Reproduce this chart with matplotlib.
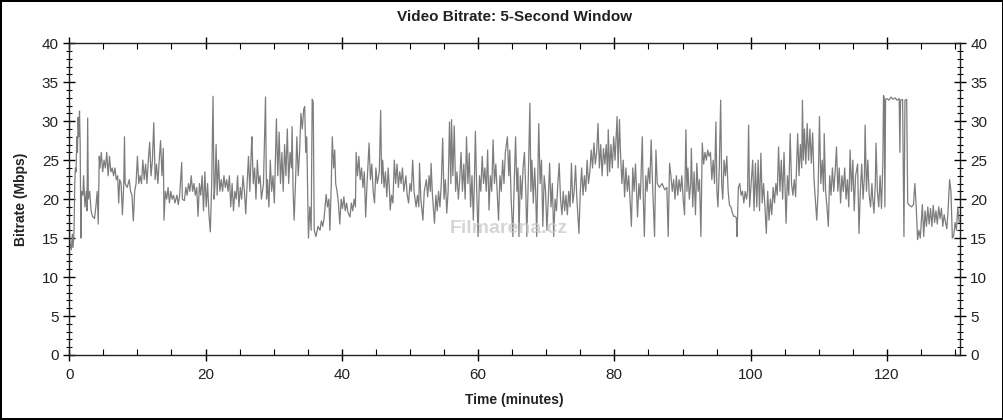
import matplotlib
matplotlib.use("Agg")
import matplotlib.pyplot as plt
from matplotlib.ticker import MultipleLocator

plt.rcParams['font.family'] = ['Liberation Sans', 'DejaVu Sans']

title = "Video Bitrate: 5-Second Window"
x_label = "Time (minutes)"
y_label = "Bitrate (Mbps)"
watermark = "Filmarena.cz"

minutes = [
    0.0, 0.05, 0.15, 0.3, 0.45, 0.55, 0.7, 0.8, 0.9, 1.0, 1.1, 1.2, 1.3, 1.4, 1.5, 1.6, 1.7, 1.8, 2.0, 2.1,
    2.3, 2.5, 2.6, 2.7, 2.8, 3.0, 3.2, 3.4, 3.7, 3.9, 4.1, 4.25, 4.4, 4.5, 4.7, 4.9, 5.1, 5.3, 5.5, 5.7,
    5.9, 6.1, 6.3, 6.5, 6.7, 6.9, 7.1, 7.25, 7.4, 7.6, 7.8, 8.0, 8.1, 8.2, 8.5, 8.8, 9.0, 9.2, 9.4, 9.6,
    9.8, 10.0, 10.2, 10.4, 10.6, 10.8, 11.0, 11.2, 11.4, 11.6, 11.8, 12.0, 12.2, 12.4, 12.6, 12.8, 13.0, 13.2, 13.4, 13.6,
    13.8, 13.9, 14.1, 14.3, 14.5, 14.7, 14.9, 15.1, 15.3, 15.5, 15.8, 16.0, 16.2, 16.5, 16.6, 16.9, 17.1, 17.3, 17.5, 17.7,
    17.9, 18.1, 18.3, 18.5, 18.7, 18.9, 19.1, 19.3, 19.5, 19.7, 19.9, 20.1, 20.3, 20.5, 20.7, 20.9, 21.1, 21.25, 21.4, 21.55,
    21.7, 21.9, 22.1, 22.3, 22.5, 22.7, 22.9, 23.1, 23.3, 23.5, 23.7, 23.9, 24.1, 24.3, 24.5, 24.7, 24.9, 25.1, 25.3, 25.5,
    25.7, 25.9, 26.1, 26.3, 26.5, 26.7, 26.8, 27.0, 27.2, 27.4, 27.6, 27.8, 28.0, 28.2, 28.5, 28.8, 28.95, 29.1, 29.3, 29.5,
    29.7, 29.9, 30.1, 30.4, 30.6, 30.8, 31.0, 31.2, 31.4, 31.6, 31.8, 32.0, 32.2, 32.4, 32.6, 32.7, 32.85, 33.0, 33.2, 33.4,
    33.6, 33.8, 34.0, 34.2, 34.4, 34.55, 34.7, 34.85, 35.0, 35.1, 35.3, 35.5, 35.65, 35.8, 35.95, 36.2, 36.5, 36.8, 37.0, 37.2,
    37.4, 37.7, 37.9, 38.1, 38.25, 38.45, 38.6, 38.8, 38.96, 39.1, 39.3, 39.5, 39.7, 39.9, 40.1, 40.3, 40.5, 40.7, 40.9, 41.2,
    41.4, 41.6, 41.8, 42.0, 42.1, 42.3, 42.5, 42.7, 42.9, 43.1, 43.3, 43.5, 43.7, 44.0, 44.2, 44.4, 44.6, 44.8, 45.0, 45.2,
    45.5, 45.7, 45.85, 46.0, 46.2, 46.4, 46.6, 46.8, 47.0, 47.1, 47.3, 47.5, 47.7, 47.9, 48.1, 48.3, 48.5, 48.7, 48.9, 49.1,
    49.4, 49.6, 49.8, 50.0, 50.2, 50.4, 50.6, 50.9, 51.1, 51.3, 51.4, 51.6, 51.9, 52.1, 52.4, 52.6, 52.8, 53.0, 53.1, 53.3,
    53.6, 53.8, 54.0, 54.2, 54.4, 54.6, 54.8, 55.0, 55.2, 55.4, 55.6, 55.8, 56.0, 56.1, 56.3, 56.5, 56.7, 56.9, 57.1, 57.3,
    57.5, 57.7, 57.9, 58.1, 58.3, 58.5, 58.7, 58.9, 59.1, 59.3, 59.45, 59.6, 59.8, 60.0, 60.2, 60.4, 60.6, 60.8, 61.0, 61.2,
    61.4, 61.6, 61.8, 62.0, 62.2, 62.4, 62.6, 62.8, 63.0, 63.2, 63.4, 63.6, 63.8, 64.0, 64.3, 64.5, 64.65, 64.85, 65.1, 65.3,
    65.5, 65.7, 65.85, 66.0, 66.2, 66.4, 66.6, 66.8, 67.0, 67.15, 67.35, 67.6, 67.75, 67.9, 68.1, 68.3, 68.45, 68.6, 68.75, 68.9,
    69.1, 69.3, 69.5, 69.7, 69.9, 70.1, 70.3, 70.5, 70.7, 70.9, 71.1, 71.3, 71.5, 71.7, 71.9, 72.1, 72.3, 72.5, 72.7, 72.9,
    73.1, 73.3, 73.5, 73.7, 73.9, 74.1, 74.3, 74.5, 74.8, 75.0, 75.2, 75.4, 75.6, 75.8, 76.0, 76.2, 76.4, 76.6, 76.8, 77.0,
    77.2, 77.4, 77.6, 77.8, 78.0, 78.2, 78.4, 78.6, 78.8, 79.0, 79.1, 79.3, 79.5, 79.7, 79.9, 80.1, 80.4, 80.55, 80.75, 80.9,
    81.1, 81.3, 81.5, 81.7, 81.9, 82.1, 82.3, 82.5, 82.7, 82.9, 83.1, 83.4, 83.6, 83.8, 84.1, 84.25, 84.4, 84.6, 84.8, 85.0,
    85.2, 85.4, 85.6, 85.9, 86.1, 86.3, 86.6, 87.0, 87.4, 87.7, 87.9, 88.1, 88.3, 88.5, 88.7, 88.9, 89.1, 89.3, 89.5, 89.7,
    89.9, 90.1, 90.3, 90.5, 90.65, 90.8, 91.0, 91.2, 91.3, 91.5, 91.7, 91.9, 92.1, 92.3, 92.5, 92.7, 92.9, 93.1, 93.3, 93.5,
    93.7, 93.9, 94.1, 94.3, 94.5, 94.7, 94.9, 95.05, 95.2, 95.4, 95.6, 95.75, 95.9, 96.1, 96.3, 96.5, 96.7, 96.9, 97.1, 97.3,
    97.5, 97.7, 97.9, 98.0, 98.2, 98.4, 98.6, 98.8, 99.0, 99.2, 99.4, 99.55, 99.7, 99.85, 100.0, 100.3, 100.5, 100.7, 100.9, 101.1,
    101.3, 101.5, 101.7, 101.9, 102.1, 102.3, 102.5, 102.7, 102.9, 103.1, 103.3, 103.5, 103.7, 103.9, 104.1, 104.3, 104.5, 104.7, 104.9, 105.2,
    105.4, 105.6, 105.8, 106.0, 106.2, 106.4, 106.6, 106.9, 107.1, 107.3, 107.5, 107.6, 107.75, 107.9, 108.1, 108.3, 108.5, 108.7, 108.9, 109.1,
    109.3, 109.5, 109.7, 109.9, 110.1, 110.3, 110.5, 110.7, 110.8, 111.0, 111.2, 111.4, 111.6, 111.8, 112.0, 112.2, 112.4, 112.6, 112.8, 113.0,
    113.2, 113.4, 113.6, 113.8, 114.0, 114.2, 114.4, 114.6, 114.8, 115.0, 115.2, 115.4, 115.7, 115.9, 116.1, 116.3, 116.5, 116.7, 116.8, 117.0,
    117.2, 117.4, 117.6, 117.8, 117.9, 118.1, 118.3, 118.4, 118.6, 118.8, 119.0, 119.2, 119.4, 119.5, 119.6, 119.7, 119.8, 120.0, 120.3, 120.6,
    120.9, 121.2, 121.5, 121.8, 121.9, 122.0, 122.3, 122.5, 122.65, 122.9, 123.05, 123.3, 123.6, 123.9, 124.1, 124.3, 124.5, 124.7, 124.9, 125.2,
    125.4, 125.6, 125.8, 126.0, 126.2, 126.4, 126.6, 126.8, 127.0, 127.2, 127.4, 127.6, 127.8, 128.0, 128.2, 128.4, 128.6, 128.8, 129.0, 129.2,
    129.4, 129.6, 129.8, 130.0, 130.2, 130.4, 130.6,
]

bitrate = [
    21, 15, 14, 13.5, 15.5, 13.8, 16, 22, 24, 23.5, 28, 26, 30.5, 28, 31.3, 27, 15, 21, 20.5, 23,
    19, 21, 18.5, 30.4, 20, 21, 18.5, 17.8, 17.5, 19, 21, 16.8, 25.5, 24, 26, 23.5, 25, 24, 26, 23,
    25.5, 23.5, 24, 23, 24, 22.5, 23, 19.5, 22.5, 22, 18, 22, 28, 22, 21.5, 22.5, 21, 20.5, 17.2, 21,
    22, 25.5, 22, 23, 22, 25, 22.5, 24.5, 22, 25, 27.3, 23, 25, 29.8, 22.5, 24.5, 22, 25, 27.5, 23,
    26.5, 17.3, 21, 20, 21.5, 19.5, 21, 20, 20.5, 19.5, 20.5, 19.3, 20.5, 24.7, 20, 19.8, 21.5, 20.5, 22, 21,
    23, 21, 22, 20.5, 21.5, 17.8, 22, 20.5, 23, 18.5, 23.5, 19, 22, 18, 15.8, 22, 33.2, 20, 22, 27,
    20.5, 25, 21, 22.5, 21, 23, 21.5, 22.5, 21, 23, 19, 22, 18.5, 21, 20, 23, 19, 21.5, 20, 23,
    21, 18.1, 22, 25.5, 21, 26, 28, 22, 24, 20, 25, 22, 23, 20, 22, 33.1, 20, 22.5, 19, 25,
    21, 23, 19.5, 30.3, 23, 28.6, 22, 26, 21, 27, 23, 29, 22, 26, 24, 29.3, 21, 17.3, 22, 28,
    23, 26, 31, 29, 31.5, 31.9, 26, 28, 20, 15, 19, 16, 32.8, 32.5, 16, 15.2, 16.5, 16, 17.2, 16.5,
    17.6, 20.6, 19, 20, 16, 22, 28, 24, 26.3, 22, 21, 19.5, 16.8, 20, 18.8, 20.3, 18.5, 19.5, 18.3, 17.7,
    19.5, 18.5, 20, 19, 26, 23, 25.5, 22.5, 24, 21.5, 23.5, 17.7, 22, 27.2, 22.5, 24.5, 21, 19.5, 24, 22,
    23.5, 31.4, 22, 25, 21.5, 23.5, 20.3, 24, 21, 18.6, 20.5, 19.5, 25, 22, 24.5, 21.5, 23.5, 22, 24, 21,
    23, 20.5, 19.5, 22, 21, 25, 21, 19, 20.5, 19, 24.6, 20, 17.3, 21, 22.5, 20.3, 23, 21, 24.6, 20.5,
    16.9, 20.5, 18.5, 21, 19, 22, 27.8, 20, 22.5, 18.2, 21, 29.9, 22, 30.2, 23, 29.4, 21, 23.5, 20, 22.5,
    26, 21, 24.5, 20, 28, 22, 25.9, 19, 23, 17.3, 22, 28.7, 21, 15.2, 23, 21, 25.5, 22, 24, 21,
    26.3, 18.6, 23, 21, 27.6, 22, 24.5, 21, 17.3, 23, 21, 25, 22, 26, 28, 23, 26.3, 20, 15.2, 22,
    28, 21, 24, 15.2, 23, 20, 24, 26, 21, 15.2, 22, 32.3, 21, 25, 19.5, 24, 21, 15.2, 22, 29.7,
    22, 25, 16.5, 23, 21, 16, 20, 24.6, 19, 22, 15.2, 20, 18.5, 22, 24.6, 20, 18, 21, 18.5, 20.5,
    18, 21, 19, 24.6, 19.5, 21, 24.3, 20, 15.6, 21, 24, 20.5, 23, 21, 25, 22, 23.5, 26.3, 24, 27.2,
    24.5, 26, 29.7, 24, 27, 23, 26.5, 24.5, 27, 23, 28.9, 23.5, 27, 24, 28, 25, 30.6, 24, 30.2, 26,
    22, 25, 20.3, 24, 21, 23, 20, 16.5, 24, 21, 24.5, 17.7, 22, 20, 28, 20, 15.2, 23, 21, 24,
    22, 27.6, 22, 15.2, 26.3, 22, 21.5, 22, 21.2, 21.5, 15.2, 24.6, 23, 21, 22.5, 20, 23, 20.5, 22.5, 21,
    23, 20, 18, 28.9, 21, 24, 20, 22, 26.5, 19, 23.5, 18, 24.6, 21, 22.5, 15.2, 27.2, 24.5, 26, 25,
    26.3, 25.5, 26, 22.5, 25, 22, 29.9, 21, 19, 24, 32.7, 22, 20, 25, 23, 25.5, 21, 19.2, 19, 18.3,
    17.8, 17.8, 17.6, 15.2, 21.5, 22, 20.5, 21, 19.5, 21, 20, 21, 29.5, 19, 21, 25, 18.5, 24.6, 19, 25,
    18.5, 25.9, 19.5, 22, 19, 15.6, 21, 17.3, 20, 18, 21.5, 19.5, 22, 20.5, 26.7, 21, 25, 20, 26, 16.9,
    23, 20.5, 28.4, 22, 20.5, 22.5, 20.3, 28.4, 23, 27, 24, 32.7, 25, 29, 24.5, 29.7, 25, 29, 24.6, 28.5,
    22.5, 20, 17.3, 21, 30.6, 22, 25, 21, 28.4, 21, 19, 16.5, 23, 20.5, 24, 21, 23.5, 26.7, 21, 24,
    19.5, 23, 21, 24, 20, 22.5, 19, 26.3, 21, 25, 18.5, 23, 24.5, 15.6, 21, 24.5, 20, 23, 29.5, 21,
    25, 20.5, 19, 22, 20.3, 18.2, 22, 27.2, 21, 19, 23, 18.8, 24.5, 33.3, 33, 19, 32.8, 32.9, 32.7, 33.1,
    32.8, 33.0, 32.7, 32.9, 26, 32.7, 32.8, 15.2, 32.7, 32.8, 19.5, 19.2, 19, 19.3, 22, 19, 14.8, 16, 15, 19.3,
    15.2, 18.5, 16.5, 19, 16.8, 18.8, 16.5, 19.2, 17, 18.5, 16.8, 19, 17.5, 18.8, 16.5, 18, 17, 16.2, 19, 22.5,
    21, 15, 15.3, 17, 16, 19, 17,
]

y_ticks = [0, 5, 10, 15, 20, 25, 30, 35, 40]
x_ticks = [0, 20, 40, 60, 80, 100, 120]

fig = plt.figure(figsize=(10.04, 4.2), dpi=100, facecolor='white',
                 edgecolor='black', linewidth=1.5)
ax = fig.add_axes([0.069, 0.1548, 0.887, 0.7422])

ax.plot(minutes, bitrate, color='#7d7d7d', linewidth=0.9, zorder=2)

ax.set_xlim(0, 130.7)
ax.set_ylim(0, 40)
ax.set_xticks(x_ticks)
ax.set_yticks(y_ticks)
ax.xaxis.set_minor_locator(MultipleLocator(5))
ax.yaxis.set_minor_locator(MultipleLocator(1))

ax.tick_params(axis='y', which='major', direction='inout', length=9, width=1,
               labelsize=11, labelcolor='#222222', left=True, right=True,
               labelleft=True, labelright=True, pad=3)
ax.tick_params(axis='y', which='minor', direction='inout', length=5, width=0.8,
               left=True, right=True)
ax.tick_params(axis='x', which='major', direction='inout', length=9, width=1,
               labelsize=11, labelcolor='#222222', top=True, bottom=True, pad=5)
ax.tick_params(axis='x', which='minor', direction='in', length=4, width=0.8,
               top=True, bottom=True)

for s in ax.spines.values():
    s.set_linewidth(1.0)
    s.set_color('#222222')

ax.set_title(title, fontsize=11, fontweight='bold', pad=16, color='#222222')
ax.set_xlabel(x_label, fontsize=10, fontweight='bold', labelpad=8, color='#222222')
ax.set_ylabel(y_label, fontsize=10, fontweight='bold', labelpad=10, color='#222222')

ax.text(55.8, 15.6, watermark, fontsize=14, fontweight='bold', color='#c8c8c8',
        alpha=0.75, zorder=3)

fig.savefig('out.png', dpi=100, facecolor='white', edgecolor='black')
